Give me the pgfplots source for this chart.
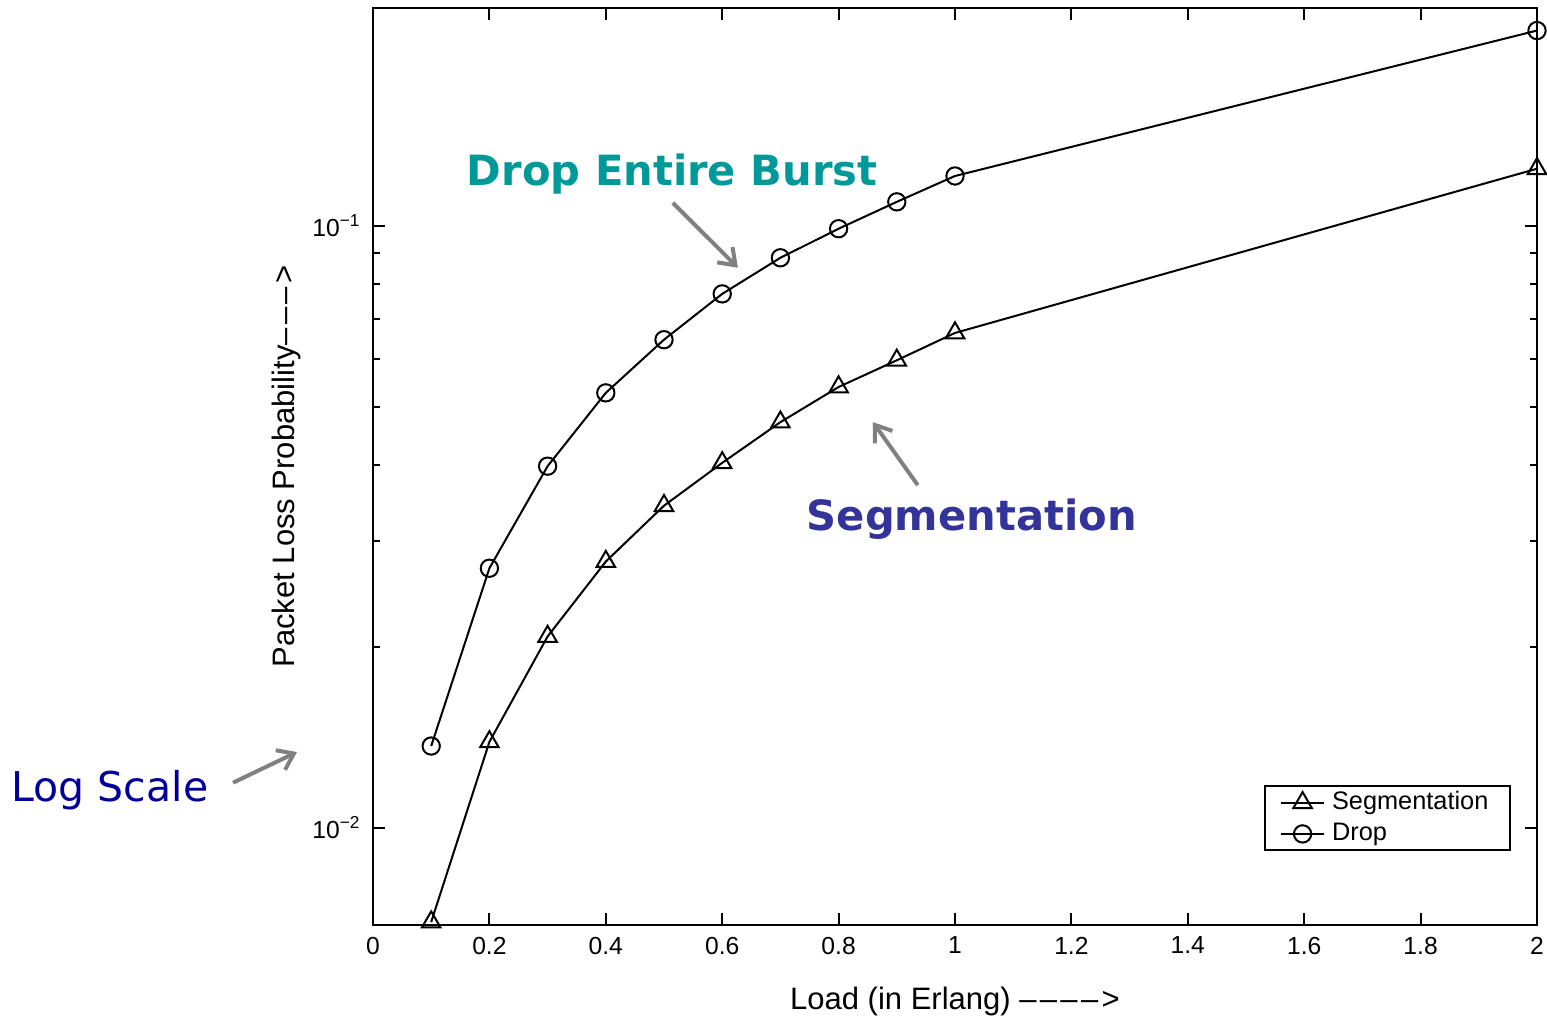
\documentclass[border=0pt]{standalone}
\usepackage{pgfplots}
\pgfplotsset{compat=1.18}
\usepackage{fontspec}
\setmainfont{Liberation Sans}
\newfontfamily\annot{DejaVu Sans}
\usetikzlibrary{arrows.meta}
\definecolor{tealc}{RGB}{0,153,153}
\definecolor{segc}{RGB}{51,51,153}
\definecolor{logc}{RGB}{0,0,153}
\definecolor{arrc}{RGB}{128,128,128}
\newcommand{\dsh}{–\kern1pt}
\begin{document}
\begin{tikzpicture}
\begin{axis}[
  scale only axis,
  width=349.2pt, height=275.1pt,
  ymode=log,
  xmin=0, xmax=2, ymin=0.0069, ymax=0.23,
  xtick={0,0.2,0.4,0.6,0.8,1,1.2,1.4,1.6,1.8,2},
  xticklabels={0,0.2,0.4,0.6,0.8,1,1.2,1.4,1.6,1.8,2},
  ytick={0.01,0.1},
  yticklabels={10\textsuperscript{−2},10\textsuperscript{−1}},
  tick align=inside,
  major tick length=3.6pt, minor tick length=2pt,
  axis line style={line width=0.6pt},
  every tick/.style={line width=0.6pt, black},
  tick label style={font=\fontsize{7.4}{8.5}\selectfont},
  xlabel={Load (in Erlang) \dsh\dsh\dsh\dsh>},
  ylabel={Packet Loss Probability\dsh\dsh\dsh>},
  label style={font=\fontsize{9.3}{11}\selectfont},
  xlabel style={yshift=-3pt},
  ylabel style={yshift=-3.5pt},
  clip=false,
  legend style={at={(0.9777,0.1527)}, anchor=north east, font=\fontsize{7.6}{8.5}\selectfont, draw=black, line width=0.6pt, inner xsep=4.5pt, inner ysep=-0.5pt, row sep=-1.5pt},
  legend cell align=left,
  legend image code/.code={\draw[mark repeat=2,mark phase=2,#1] plot coordinates {(0cm,0cm) (0.23cm,0cm) (0.46cm,0cm)};},
]
\addplot[black, line width=0.6pt, mark=triangle, mark size=3.2pt, mark options={solid, line width=0.6pt}] coordinates {
 (0.1,0.00698) (0.2,0.0139) (0.3,0.0208) (0.4,0.0277) (0.5,0.0343) (0.6,0.0404)
 (0.7,0.0472) (0.8,0.0540) (0.9,0.0598) (1.0,0.0664) (2.0,0.1244)};
\addlegendentry{Segmentation}
\addplot[black, line width=0.6pt, mark=o, mark size=2.6pt, mark options={solid, line width=0.6pt}] coordinates {
 (0.1,0.01368) (0.2,0.0270) (0.3,0.0399) (0.4,0.0528) (0.5,0.0647) (0.6,0.0771)
 (0.7,0.0885) (0.8,0.0989) (0.9,0.1096) (1.0,0.121) (2.0,0.211)};
\addlegendentry{Drop}
\node[text=tealc, font=\annot\bfseries\fontsize{12.5}{14}\selectfont] at (axis cs:0.514,0.122) {Drop Entire Burst};
\node[text=segc, font=\annot\bfseries\fontsize{12.5}{14}\selectfont] at (axis cs:1.029,0.0326) {Segmentation};
\node[text=logc, font=\annot\fontsize{12.3}{14}\selectfont] at (axis cs:-0.452,0.01156) {Log Scale};
\draw[arrc, line width=1.2pt, -{Straight Barb[length=4.5pt,width=6.5pt]}] (axis cs:0.515,0.1092) -- (axis cs:0.627,0.0852);
\draw[arrc, line width=1.2pt, -{Straight Barb[length=4.5pt,width=6.5pt]}] (axis cs:0.936,0.0371) -- (axis cs:0.859,0.0472);
\draw[arrc, line width=1.2pt, -{Straight Barb[length=4.5pt,width=6.5pt]}] (axis cs:-0.2405,0.01189) -- (axis cs:-0.1306,0.01337);
\coordinate (ll) at (rel axis cs:0,0);
\coordinate (ur) at (rel axis cs:1,1);
\end{axis}
\pgfresetboundingbox
\path ([xshift=-111.9pt,yshift=-27.9pt]ll) rectangle ([xshift=3pt,yshift=2.4pt]ur);
\end{tikzpicture}
\end{document}
